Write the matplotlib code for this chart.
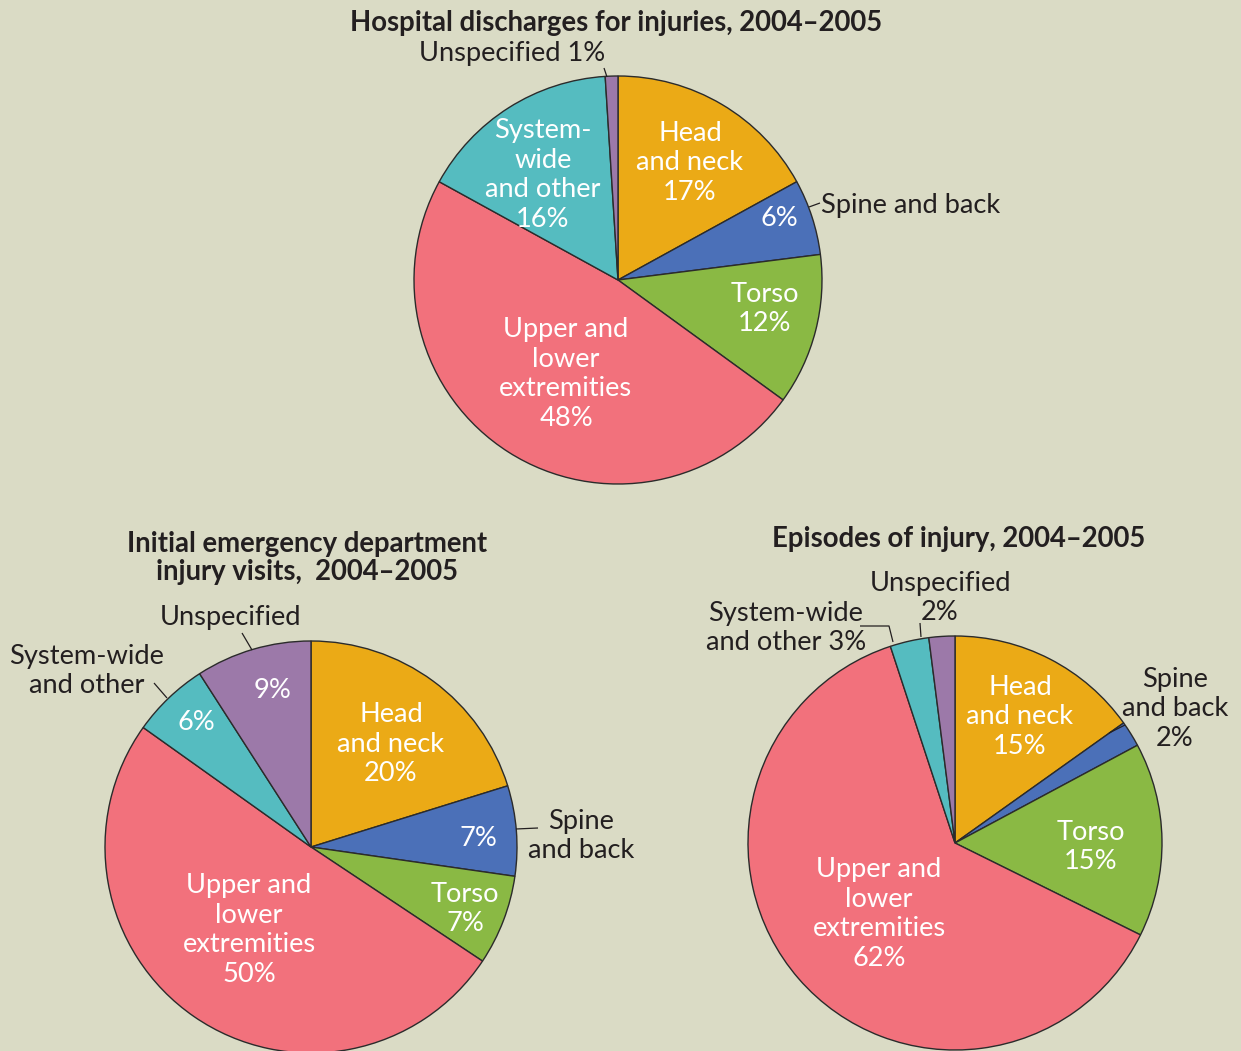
import matplotlib
matplotlib.use("Agg")
import matplotlib.pyplot as plt

plt.rcParams['font.family'] = ['Lato', 'DejaVu Sans']

# Categories in clockwise order starting from 12 o'clock
categories = ["Head and neck", "Spine and back", "Torso",
              "Upper and lower extremities", "System-wide and other", "Unspecified"]
colors = ["#EBAA16", "#4B70B8", "#8AB944", "#F2717C", "#55BCC0", "#9C79A9"]

hospital_values = [17, 6, 12, 48, 16, 1]
emergency_values = [20, 7, 7, 50, 6, 9]
episode_values = [15, 2, 15, 62, 3, 2]

titles = ["Hospital discharges for injuries, 2004\u20132005",
          "Initial emergency department\ninjury visits,  2004\u20132005",
          "Episodes of injury, 2004\u20132005"]

BG = "#DADBC5"
DARK = "#231F20"
W, H = 1241, 1051

fig = plt.figure(figsize=(W / 100, H / 100), dpi=100, facecolor=BG)
ax = fig.add_axes([0, 0, 1, 1])
ax.set_facecolor(BG)


def Y(y):
    # pixel row (top-down) to data y (bottom-up)
    return H - y


FS = 19.6
TFS = 19.8
LS = 1.24
wp = dict(edgecolor="#2B2B2B", linewidth=1.0)


def draw_pie(values, cx, cy, r):
    ax.pie(values, colors=colors, startangle=90, counterclock=False,
           center=(cx, Y(cy)), radius=r, wedgeprops=wp, frame=True)


def label(x, y, s, color="white", ha="center", weight="normal", size=FS, ls=LS):
    ax.text(x, Y(y + 2), s, color=color, ha=ha, va="center", fontsize=size,
            fontweight=weight, linespacing=ls)


def leader(xs, ys):
    ax.plot(xs, [Y(v) for v in ys], color=DARK, lw=0.9, solid_capstyle="butt")


# --- Hospital discharges ---
hv = hospital_values
draw_pie(hv, 618, 280, 204)
label(616, 21, titles[0], color=DARK, weight="bold", size=TFS)
label(512, 52, f"Unspecified {hv[5]}%", color=DARK)
leader([604, 607], [68, 77])
label(543, 173, f"System-\nwide\nand other\n{hv[4]}%")
label(690, 161, f"Head\nand neck\n{hv[0]}%")
label(779, 217, f"{hv[1]}%")
label(821, 203, "Spine and back", color=DARK, ha="left")
leader([809, 820], [207, 203])
label(765, 307, f"Torso\n{hv[2]}%")
label(566, 372, f"Upper and\nlower\nextremities\n{hv[3]}%")

# --- Emergency department visits ---
ev = emergency_values
draw_pie(ev, 311, 847, 206)
label(307, 556, titles[1], color=DARK, weight="bold", size=TFS, ls=1.12)
label(231, 616, "Unspecified", color=DARK)
leader([242, 252], [633, 650])
label(87, 669, "System-wide\nand other", color=DARK)
leader([154, 167], [683, 698])
label(273, 688, f"{ev[5]}%")
label(196, 720, f"{ev[4]}%")
label(391, 742, f"Head\nand neck\n{ev[0]}%")
label(478, 837, f"{ev[1]}%")
label(581, 834, "Spine\nand back", color=DARK)
leader([516, 538], [829, 828])
label(465, 907, f"Torso\n{ev[2]}%")
label(249, 928, f"Upper and\nlower\nextremities\n{ev[3]}%")

# --- Episodes of injury ---
pv = episode_values
draw_pie(pv, 955, 843, 207)
label(959, 537, titles[2], color=DARK, weight="bold", size=TFS)
label(940, 596, f"Unspecified\n{pv[5]}%", color=DARK)
leader([920, 921], [623, 637])
label(786, 626, f"System-wide\nand other {pv[4]}%", color=DARK)
leader([860, 889, 893], [626, 626, 642])
label(1175, 707, f"Spine\nand back\n{pv[1]}%", color=DARK)
leader([1109, 1125], [733, 725])
label(1020, 715, f"Head\nand neck\n{pv[0]}%")
label(1091, 845, f"Torso\n{pv[2]}%")
label(879, 912, f"Upper and\nlower\nextremities\n{pv[3]}%")

ax.set_xlim(0, W)
ax.set_ylim(0, H)
ax.set_aspect("equal")
ax.axis("off")

fig.savefig("out.png", dpi=100, facecolor=BG)
